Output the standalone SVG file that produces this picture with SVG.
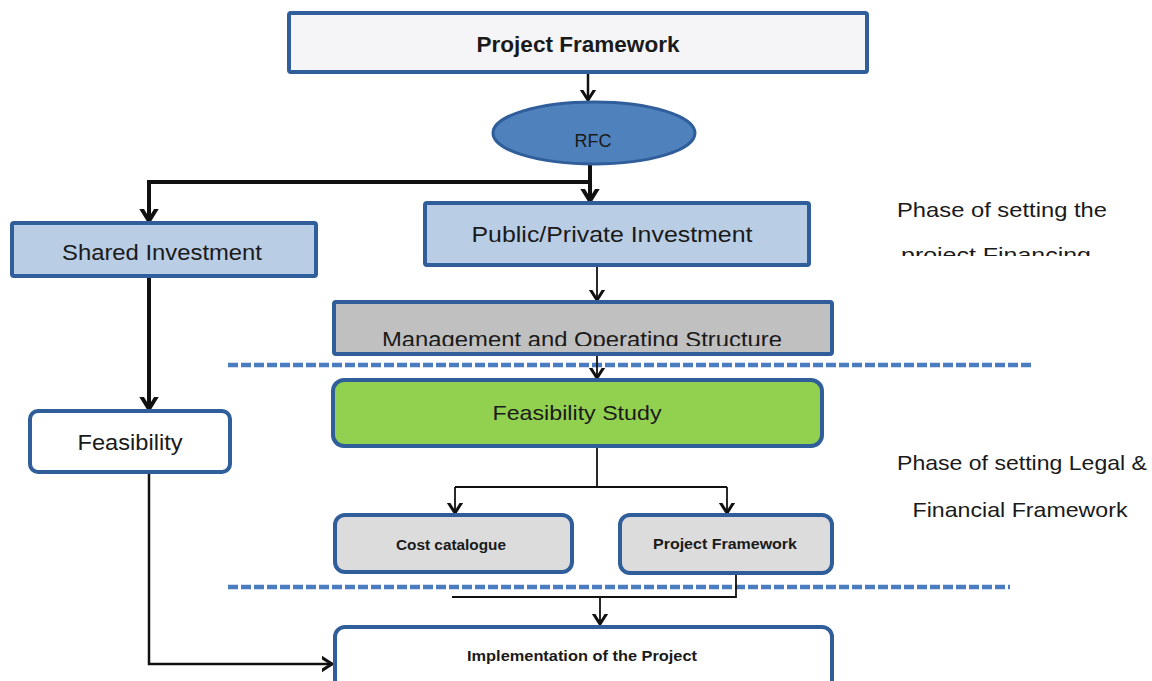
<svg xmlns="http://www.w3.org/2000/svg" width="1152" height="681" viewBox="0 0 1152 681">
  <style>
    .box { stroke: #2f5e9a; stroke-width: 4; }
    .t { font-family: "Liberation Sans", Arial, sans-serif; fill: #1a1a1a; text-anchor: middle; }
    .big { font-size: 22px; }
    .small { font-size: 14px; font-weight: bold; }
    .phase { font-size: 21px; }
    .c { fill: none; stroke: #111; stroke-linecap: butt; stroke-linejoin: miter; }
    .thick { stroke-width: 4; }
    .mid { stroke-width: 2.5; }
    .thin { stroke-width: 1.8; }
    .dash { stroke: #4a7cc0; stroke-width: 4.5; stroke-dasharray: 10 3; fill: none; }
  </style>
  <defs>
    <marker id="ah" markerUnits="userSpaceOnUse" markerWidth="20" markerHeight="20" viewBox="-10 -10 20 20" refX="0" refY="0" orient="auto">
      <path d="M-11,-7 L0,0 L-11,7" fill="none" stroke="#111" stroke-width="3"/>
    </marker>
    <marker id="ahb" markerUnits="userSpaceOnUse" markerWidth="24" markerHeight="24" viewBox="-12 -12 24 24" refX="0" refY="0" orient="auto">
      <path d="M-13,-8 L0,0 L-13,8" fill="none" stroke="#111" stroke-width="4"/>
    </marker>
    <clipPath id="clipFin"><rect x="880" y="190" width="260" height="66"/></clipPath>
    <clipPath id="clipMgmt"><rect x="336" y="304" width="494" height="42"/></clipPath>
  </defs>
  <rect width="1152" height="681" fill="#ffffff"/>

  <g id="dividers">
    <line class="dash" x1="228" y1="365" x2="1033" y2="365"/>
    <line class="dash" x1="228" y1="587" x2="1010" y2="587"/>
  </g>

  <g id="connectors">
    <line class="c mid" x1="588" y1="72" x2="588" y2="100" marker-end="url(#ah)"/>
    <line class="c thick" x1="590" y1="165" x2="590" y2="201" marker-end="url(#ahb)"/>
    <polyline class="c thick" points="590,182 149,182 149,221" marker-end="url(#ahb)"/>
    <line class="c thick" x1="149" y1="276" x2="149" y2="409" marker-end="url(#ahb)"/>
    <line class="c thin" x1="597" y1="265" x2="597" y2="300" marker-end="url(#ah)"/>
    <line class="c thin" x1="597" y1="354" x2="597" y2="378" marker-end="url(#ah)"/>
    <line class="c thin" x1="597" y1="446" x2="597" y2="487"/>
    <line class="c thin" x1="455" y1="487" x2="727" y2="487"/>
    <line class="c thin" x1="455" y1="487" x2="455" y2="513" marker-end="url(#ah)"/>
    <line class="c thin" x1="727" y1="487" x2="727" y2="513" marker-end="url(#ah)"/>
    <polyline class="c thin" points="736,573 736,597 452,597"/>
    <line class="c thin" x1="600" y1="597" x2="600" y2="624" marker-end="url(#ah)"/>
    <polyline class="c mid" points="149,472 149,664 332,664" marker-end="url(#ah)"/>
  </g>

  <g id="project-framework-top">
    <rect class="box" x="289" y="13" width="578" height="59" rx="2" fill="#f5f5f7"/>
    <text class="t big" x="578" y="52" font-weight="bold" textLength="203" lengthAdjust="spacingAndGlyphs">Project Framework</text>
  </g>

  <g id="rfc">
    <ellipse cx="594" cy="133" rx="101" ry="31" fill="#4f81bd" stroke="#2f5e9a" stroke-width="3"/>
    <text class="t" x="593" y="147" font-size="18" textLength="37" lengthAdjust="spacingAndGlyphs">RFC</text>
  </g>

  <g id="public-private">
    <rect class="box" x="425" y="203" width="384" height="62" rx="2" fill="#b9cde5"/>
    <text class="t big" x="612" y="242" textLength="281" lengthAdjust="spacingAndGlyphs">Public/Private Investment</text>
  </g>

  <g id="shared-investment">
    <rect class="box" x="12" y="223" width="304" height="53" rx="2" fill="#b9cde5"/>
    <text class="t big" x="162" y="260" textLength="200" lengthAdjust="spacingAndGlyphs">Shared Investment</text>
  </g>

  <g id="management">
    <rect class="box" x="334" y="302" width="498" height="52" rx="2" fill="#c0c0c0"/>
    <text class="t big" x="582" y="347" clip-path="url(#clipMgmt)" textLength="400" lengthAdjust="spacingAndGlyphs">Management and Operating Structure</text>
  </g>

  <g id="feasibility">
    <rect class="box" x="30" y="411" width="200" height="61" rx="8" fill="#ffffff"/>
    <text class="t big" x="130" y="450" textLength="105" lengthAdjust="spacingAndGlyphs">Feasibility</text>
  </g>

  <g id="feasibility-study">
    <rect class="box" x="333" y="380" width="489" height="66" rx="11" fill="#92d050"/>
    <text class="t" x="577" y="420" font-size="21" textLength="169" lengthAdjust="spacingAndGlyphs">Feasibility Study</text>
  </g>

  <g id="cost-catalogue">
    <rect class="box" x="335" y="515" width="237" height="57" rx="10" fill="#dcdcdc"/>
    <text class="t small" x="451" y="550" textLength="110" lengthAdjust="spacingAndGlyphs">Cost catalogue</text>
  </g>

  <g id="project-framework-small">
    <rect class="box" x="620" y="515" width="212" height="58" rx="10" fill="#dcdcdc"/>
    <text class="t small" x="725" y="549" textLength="144" lengthAdjust="spacingAndGlyphs">Project Framework</text>
  </g>

  <g id="implementation">
    <rect class="box" x="335" y="627" width="497" height="70" rx="10" fill="#ffffff"/>
    <text class="t small" x="582" y="661" textLength="230" lengthAdjust="spacingAndGlyphs">Implementation of the Project</text>
  </g>

  <g id="phase-financing">
    <text class="t phase" x="1002" y="217" textLength="210" lengthAdjust="spacingAndGlyphs">Phase of setting the</text>
    <text class="t phase" x="996" y="262" clip-path="url(#clipFin)" textLength="190" lengthAdjust="spacingAndGlyphs">project Financing</text>
  </g>

  <g id="phase-legal">
    <text class="t phase" x="1022" y="470" textLength="250" lengthAdjust="spacingAndGlyphs">Phase of setting Legal &amp;</text>
    <text class="t phase" x="1020" y="517" textLength="215" lengthAdjust="spacingAndGlyphs">Financial Framework</text>
  </g>
</svg>
